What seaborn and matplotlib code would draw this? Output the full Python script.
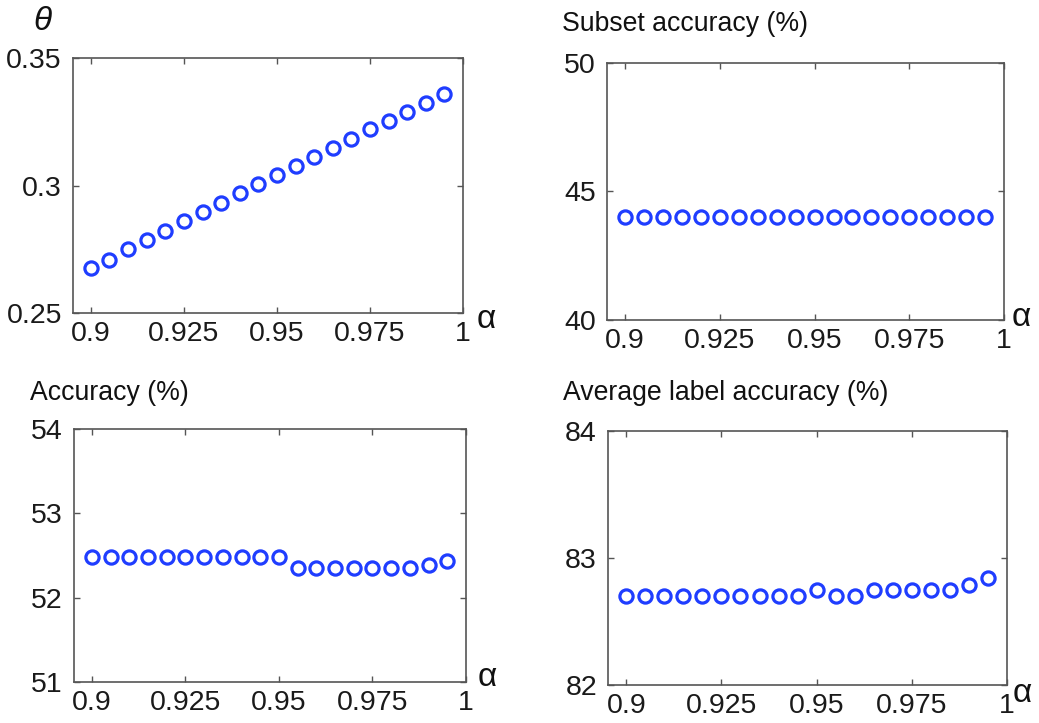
import numpy as np
import pandas as pd
import matplotlib
matplotlib.use("Agg")
import matplotlib.pyplot as plt
import seaborn as sns

# ---- data ----
alpha = [0.900, 0.905, 0.910, 0.915, 0.920, 0.925, 0.930, 0.935, 0.940, 0.945,
         0.950, 0.955, 0.960, 0.965, 0.970, 0.975, 0.980, 0.985, 0.990, 0.995]
theta = [0.2676, 0.2709, 0.2750, 0.2787, 0.2822, 0.2861, 0.2896, 0.2933, 0.2972, 0.3007,
         0.3042, 0.3078, 0.3113, 0.3148, 0.3184, 0.3220, 0.3254, 0.3289, 0.3323, 0.3358]
subset_acc = [44.0] * 20
accuracy = [52.48, 52.48, 52.48, 52.48, 52.48, 52.48, 52.48, 52.48, 52.48, 52.48,
            52.48, 52.35, 52.35, 52.35, 52.35, 52.35, 52.35, 52.35, 52.39, 52.43]
avg_label_acc = [82.70, 82.70, 82.70, 82.70, 82.70, 82.70, 82.70, 82.70, 82.70, 82.70,
                 82.75, 82.70, 82.70, 82.75, 82.75, 82.75, 82.75, 82.75, 82.79, 82.84]

x_ticks = [0.9, 0.925, 0.95, 0.975, 1.0]
x_ticklabels = ["0.9", "0.925", "0.95", "0.975", "1"]

panels = [
    dict(y=theta, ylim=(0.25, 0.35), yticks=[0.25, 0.3, 0.35], yticklabels=["0.25", "0.3", "0.35"],
         title=r"$\theta$", box=(73, 463, 58, 313)),
    dict(y=subset_acc, ylim=(40, 50), yticks=[40, 45, 50], yticklabels=["40", "45", "50"],
         title="Subset accuracy (%)", box=(607, 1004, 63, 320)),
    dict(y=accuracy, ylim=(51, 54), yticks=[51, 52, 53, 54], yticklabels=["51", "52", "53", "54"],
         title="Accuracy (%)", box=(74, 466, 429, 682)),
    dict(y=avg_label_acc, ylim=(82, 84), yticks=[82, 83, 84], yticklabels=["82", "83", "84"],
         title="Average label accuracy (%)", box=(608, 1007, 431, 685)),
]
title_pos = [(33, 22), (562, 24), (30, 393), (563, 393)]
alpha_pos = [(477, 320), (1012, 318), (478, 678), (1013, 693)]

sns.set_theme(style="white")
plt.rcParams['font.family'] = ['Liberation Sans', 'DejaVu Sans']
plt.rcParams['mathtext.fontset'] = 'custom'
plt.rcParams['mathtext.it'] = 'Liberation Sans:italic'

W, H = 1039, 723
fig = plt.figure(figsize=(W / 100, H / 100), dpi=100)
blue = "#1f3dff"
spine_c = "#555555"

for i, p in enumerate(panels):
    l, r, t, b = p["box"]
    ax = fig.add_axes([l / W, 1 - b / H, (r - l) / W, (b - t) / H])
    df = pd.DataFrame({"alpha": alpha, "val": p["y"]})
    sns.lineplot(data=df, x="alpha", y="val", ax=ax, linestyle="", marker="o",
                 markerfacecolor="none", markeredgecolor=blue, markersize=9.5,
                 markeredgewidth=2.3, color=blue, sort=False)
    ax.set_xlim(0.8952, 1.0)
    ax.set_ylim(*p["ylim"])
    ax.set_xticks(x_ticks)
    ax.set_xticklabels(x_ticklabels)
    ax.set_yticks(p["yticks"])
    ax.set_yticklabels(p["yticklabels"])
    ax.set_xlabel("")
    ax.set_ylabel("")
    ax.tick_params(direction="in", length=4, width=1, colors=spine_c,
                   labelcolor="#1a1a1a", labelsize=20.5, top=True, right=True,
                   bottom=True, left=True)
    ax.tick_params(axis="x", pad=6)
    ax.tick_params(axis="y", pad=8)
    for s in ax.spines.values():
        s.set_color(spine_c)
        s.set_linewidth(1.2)
        s.set_visible(True)
    tx, ty = title_pos[i]
    if i == 0:
        fig.text(tx / W, 1 - ty / H, p["title"], fontsize=24, ha="left", va="center", color="#111111")
    else:
        fig.text(tx / W, 1 - ty / H, p["title"], fontsize=19.2, ha="left", va="center", color="#111111")
    axx, axy = alpha_pos[i]
    fig.text(axx / W, 1 - axy / H, "α", fontsize=24, ha="left", va="center", color="#111111")

fig.savefig("out.png", dpi=100, facecolor="white")
